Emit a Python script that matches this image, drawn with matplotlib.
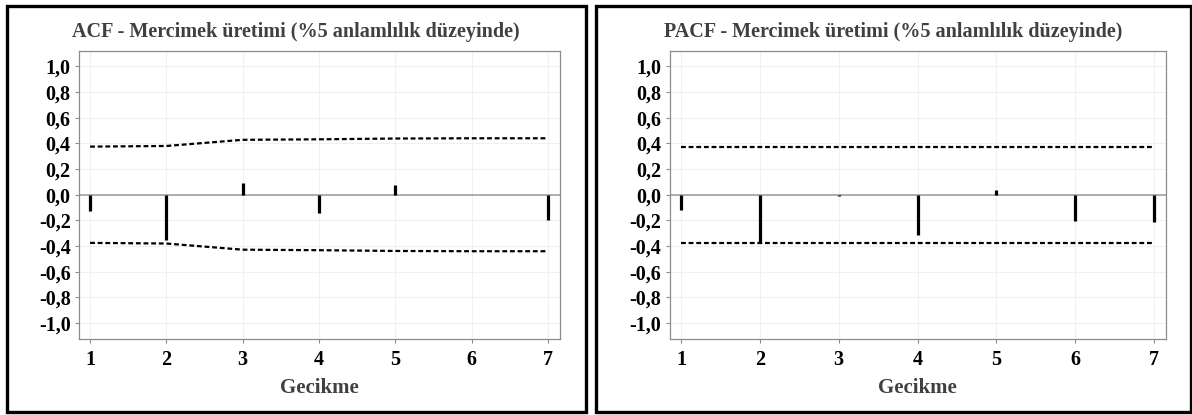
import matplotlib
matplotlib.use('Agg')
import matplotlib.pyplot as plt
from matplotlib.patches import Rectangle
from matplotlib.ticker import FuncFormatter

plt.rcParams['font.family'] = ['Liberation Serif', 'DejaVu Serif']
plt.rcParams['lines.scale_dashes'] = False

lags = [1, 2, 3, 4, 5, 6, 7]
acf = [-0.125, -0.35, 0.095, -0.145, 0.078, 0.0, -0.195]
acf_bound = [0.375, 0.38, 0.428, 0.432, 0.438, 0.44, 0.44]
pacf = [-0.122, -0.37, -0.012, -0.313, 0.038, -0.207, -0.212]
pacf_bound = [0.375, 0.375, 0.375, 0.375, 0.375, 0.375, 0.375]

titles = ['ACF - Mercimek üretimi (%5 anlamlılık düzeyinde)',
          'PACF - Mercimek üretimi (%5 anlamlılık düzeyinde)']
yticks = [-1.0, -0.8, -0.6, -0.4, -0.2, 0.0, 0.2, 0.4, 0.6, 0.8, 1.0]

W, H = 1192, 415
fig = plt.figure(figsize=(W / 100, H / 100), dpi=100)


def px_axes(x0, x1, y0, y1):
    return fig.add_axes([x0 / W, 1 - y1 / H, (x1 - x0) / W, (y1 - y0) / H])


def comma(v, pos):
    return ('%.1f' % v).replace('.', ',')


panels = [
    # axes box, panel border, series
    ((79, 559.5, 51, 338.5), (6.5, 586, 6.5, 411.5), acf, acf_bound, titles[0]),
    ((669.5, 1166, 51, 338.5), (596, 1191, 6.5, 411.5), pacf, pacf_bound, titles[1]),
]

for (ax0, ax1, ay0, ay1), (bx0, bx1, by0, by1), vals, bound, title in panels:
    # panel frame
    fig.patches.append(Rectangle((bx0 / W, 1 - by1 / H), (bx1 - bx0) / W, (by1 - by0) / H,
                                 transform=fig.transFigure, fill=False,
                                 edgecolor='black', linewidth=2.4))
    fig.text((bx0 + bx1) / 2 / W, 1 - 37 / H, title, ha='center', va='baseline',
             fontsize=14.5, fontweight='bold', color='#404040')

    ax = px_axes(ax0, ax1, ay0, ay1)
    ax.set_xlim(0.855, 7.15)
    ax.set_ylim(-1.12, 1.12)
    ax.set_xticks(lags)
    ax.set_yticks(yticks)
    ax.yaxis.set_major_formatter(FuncFormatter(comma))
    ax.grid(True, color='#f0f0f0', linewidth=0.8)
    ax.set_axisbelow(True)
    for s in ax.spines.values():
        s.set_color('#8c8c8c')
        s.set_linewidth(0.9)
    ax.tick_params(length=3, width=0.8, color='#8c8c8c', labelsize=14.5, labelcolor='black')
    ax.tick_params(axis='x', pad=5)
    ax.tick_params(axis='y', pad=3)
    for lab in ax.get_xticklabels() + ax.get_yticklabels():
        lab.set_fontweight('bold')

    ax.axhline(0, color='#a0a0a0', linewidth=1.2, zorder=2)
    ax.vlines(lags, 0, vals, color='black', linewidth=2.3, zorder=3)
    ax.plot(lags, bound, color='black', linewidth=1.6, dashes=(3.5, 2), zorder=3)
    ax.plot(lags, [-b for b in bound], color='black', linewidth=1.6, dashes=(3.5, 2), zorder=3)

    ax.set_xlabel('Gecikme', fontsize=15, fontweight='bold', color='#404040', labelpad=6)

fig.savefig('out.png', dpi=100)
